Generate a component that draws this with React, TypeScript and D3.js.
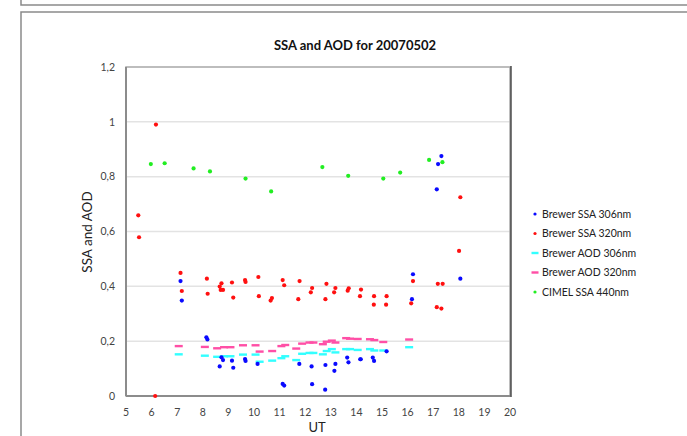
import { useEffect, useRef } from "react";
import * as d3 from "d3";

// Brewer SSA 306nm
const ssa306X = [7.13, 7.18, 8.14, 8.18, 8.66, 8.73, 8.79, 9.14, 9.19, 9.65, 9.67, 10.14, 11.12, 11.18, 11.77, 12.25, 12.27, 12.79, 12.78, 13.18, 13.14, 13.64, 13.69, 14.15, 14.17, 14.64, 14.69, 15.18, 16.17, 16.21, 17.14, 17.19, 17.32, 18.06];
const ssa306Y = [0.419, 0.348, 0.214, 0.206, 0.108, 0.141, 0.131, 0.129, 0.103, 0.135, 0.128, 0.117, 0.044, 0.038, 0.117, 0.108, 0.043, 0.113, 0.023, 0.117, 0.092, 0.140, 0.123, 0.134, 0.134, 0.140, 0.128, 0.163, 0.353, 0.444, 0.754, 0.846, 0.875, 0.428];

// Brewer SSA 320nm
const ssa320X = [5.48, 5.51, 6.14, 6.17, 7.13, 7.18, 8.16, 8.19, 8.66, 8.73, 8.70, 8.79, 9.14, 9.19, 9.65, 9.67, 10.17, 10.19, 10.65, 10.70, 11.12, 11.18, 11.73, 11.78, 12.22, 12.27, 12.79, 12.83, 13.13, 13.18, 13.66, 13.70, 14.14, 14.18, 14.68, 14.69, 15.16, 15.18, 16.14, 16.21, 17.14, 17.18, 17.32, 17.37, 18.01, 18.06];
const ssa320Y = [0.659, 0.579, 0.0, 0.990, 0.449, 0.383, 0.428, 0.373, 0.399, 0.411, 0.387, 0.387, 0.414, 0.359, 0.423, 0.416, 0.434, 0.364, 0.348, 0.357, 0.423, 0.404, 0.353, 0.419, 0.378, 0.394, 0.353, 0.409, 0.378, 0.394, 0.384, 0.393, 0.364, 0.388, 0.333, 0.364, 0.333, 0.364, 0.338, 0.419, 0.324, 0.409, 0.319, 0.409, 0.529, 0.725];

// Brewer AOD (both wavelengths share times)
const aodX = [7.06, 8.08, 8.56, 8.83, 9.08, 9.57, 10.06, 10.22, 10.71, 11.07, 11.22, 11.65, 11.88, 12.17, 12.32, 12.69, 12.84, 13.04, 13.18, 13.60, 13.75, 14.05, 14.53, 14.70, 15.05, 16.06];
const aod306Y = [0.152, 0.147, 0.143, 0.145, 0.145, 0.151, 0.151, 0.125, 0.129, 0.138, 0.145, 0.131, 0.154, 0.157, 0.157, 0.152, 0.164, 0.171, 0.159, 0.171, 0.171, 0.168, 0.171, 0.166, 0.166, 0.178];
const aod320Y = [0.182, 0.179, 0.174, 0.178, 0.178, 0.185, 0.185, 0.162, 0.164, 0.182, 0.186, 0.173, 0.191, 0.195, 0.195, 0.189, 0.198, 0.202, 0.195, 0.211, 0.209, 0.208, 0.207, 0.204, 0.197, 0.206];

// CIMEL SSA 440nm
const cimelX = [5.97, 6.51, 7.64, 8.28, 9.67, 10.67, 12.67, 13.68, 15.05, 15.71, 16.84, 17.36];
const cimelY = [0.846, 0.849, 0.830, 0.819, 0.793, 0.746, 0.835, 0.803, 0.793, 0.815, 0.861, 0.853];

const xTicks = [5, 6, 7, 8, 9, 10, 11, 12, 13, 14, 15, 16, 17, 18, 19, 20];
const yTicks = [0, 0.2, 0.4, 0.6, 0.8, 1, 1.2];
const legendLabels = ["Brewer SSA 306nm", "Brewer SSA 320nm", "Brewer AOD 306nm", "Brewer AOD 320nm", "CIMEL SSA 440nm"];

const FONT = "Lato, 'Open Sans', sans-serif";

export default function App() {
  const svgRef = useRef<SVGSVGElement | null>(null);

  useEffect(() => {
    const svg = d3.select(svgRef.current);
    svg.selectAll("*").remove();

    const x = d3.scaleLinear().domain([5, 20]).range([126, 510]);
    const y = d3.scaleLinear().domain([0, 1.2]).range([396, 67]);

    // frames
    svg.append("path")
      .attr("d", "M21,0 V5 H687")
      .attr("fill", "none").attr("stroke", "#8a8a8a").attr("stroke-width", 1.5);
    svg.append("path")
      .attr("d", "M21,436 V12 H687")
      .attr("fill", "none").attr("stroke", "#8a8a8a").attr("stroke-width", 1.5);

    svg.append("text")
      .attr("x", 355).attr("y", 50)
      .attr("text-anchor", "middle")
      .attr("font-family", FONT).attr("font-size", 13).attr("font-weight", "bold")
      .attr("fill", "#111")
      .text("SSA and AOD for 20070502");

    // gridlines
    svg.append("g").selectAll("line")
      .data(yTicks.filter((d) => d > 0 && d < 1.2))
      .join("line")
      .attr("x1", 126).attr("x2", 510)
      .attr("y1", (d) => y(d)).attr("y2", (d) => y(d))
      .attr("stroke", "#e3e3e3").attr("stroke-width", 1.5);

    // plot border
    svg.append("rect")
      .attr("x", 126).attr("y", 67).attr("width", 384).attr("height", 329)
      .attr("fill", "none").attr("stroke", "#a8a8a8").attr("stroke-width", 1.5);
    svg.append("line")
      .attr("x1", 511).attr("x2", 511).attr("y1", 66).attr("y2", 397)
      .attr("stroke", "#222").attr("stroke-width", 1.2);
    svg.append("line")
      .attr("x1", 126).attr("x2", 126).attr("y1", 67).attr("y2", 396)
      .attr("stroke", "#8c8c8c").attr("stroke-width", 2);
    svg.append("line")
      .attr("x1", 126).attr("x2", 510).attr("y1", 396).attr("y2", 396)
      .attr("stroke", "#8c8c8c").attr("stroke-width", 2);

    // tick labels
    svg.append("g").selectAll("text")
      .data(yTicks)
      .join("text")
      .attr("x", 115).attr("y", (d) => y(d))
      .attr("dy", "0.35em")
      .attr("text-anchor", "end")
      .attr("font-family", FONT).attr("font-size", 10.5).attr("fill", "#444")
      .text((d) => String(+d.toFixed(1)).replace(".", ","));

    svg.append("g").selectAll("text")
      .data(xTicks)
      .join("text")
      .attr("x", (d) => x(d)).attr("y", 416)
      .attr("text-anchor", "middle")
      .attr("font-family", FONT).attr("font-size", 10.5).attr("fill", "#444")
      .text((d) => d);

    svg.append("text")
      .attr("transform", "translate(92,232) rotate(-90)")
      .attr("text-anchor", "middle")
      .attr("font-family", FONT).attr("font-size", 13.5).attr("fill", "#222")
      .text("SSA and AOD");

    svg.append("text")
      .attr("x", 317).attr("y", 432)
      .attr("text-anchor", "middle")
      .attr("font-family", FONT).attr("font-size", 13).attr("fill", "#222")
      .text("UT");

    const plot = svg.append("g");

    const dash = (xs: number[], ys: number[], color: string) => {
      plot.append("g").selectAll("rect")
        .data(xs.map((v, i) => [v, ys[i]]))
        .join("rect")
        .attr("x", (d) => x(d[0]) - 4).attr("y", (d) => y(d[1]) - 1.2)
        .attr("width", 8).attr("height", 2.4)
        .attr("fill", color);
    };
    const dots = (xs: number[], ys: number[], color: string) => {
      plot.append("g").selectAll("circle")
        .data(xs.map((v, i) => [v, ys[i]]))
        .join("circle")
        .attr("cx", (d) => x(d[0])).attr("cy", (d) => y(d[1]))
        .attr("r", 2.1)
        .attr("fill", color);
    };

    const colors = ["#0a0aff", "#ff1010", "#33ffff", "#ff4fa6", "#22ee22"];
    dash(aodX, aod306Y, colors[2]);
    dash(aodX, aod320Y, colors[3]);
    dots(cimelX, cimelY, colors[4]);
    dots(ssa320X, ssa320Y, colors[1]);
    dots(ssa306X, ssa306Y, colors[0]);

    // legend
    const leg = svg.append("g").selectAll("g")
      .data(legendLabels)
      .join("g")
      .attr("transform", (_, i) => `translate(535,${214 + i * 19.5})`);
    leg.each(function (_, i) {
      const g = d3.select(this);
      if (i === 2 || i === 3) {
        g.append("rect").attr("x", -3.5).attr("y", -1.2).attr("width", 7).attr("height", 2.4).attr("fill", colors[i]);
      } else {
        g.append("circle").attr("r", 1.6).attr("fill", colors[i]);
      }
    });
    leg.append("text")
      .attr("x", 7).attr("dy", "0.35em")
      .attr("font-family", FONT).attr("font-size", 10.5).attr("fill", "#222")
      .text((d) => d);
  }, []);

  return (
    <svg ref={svgRef} width={687} height={436}
      style={{ position: "absolute", left: 0, top: 0, background: "#fff" }} />
  );
}
